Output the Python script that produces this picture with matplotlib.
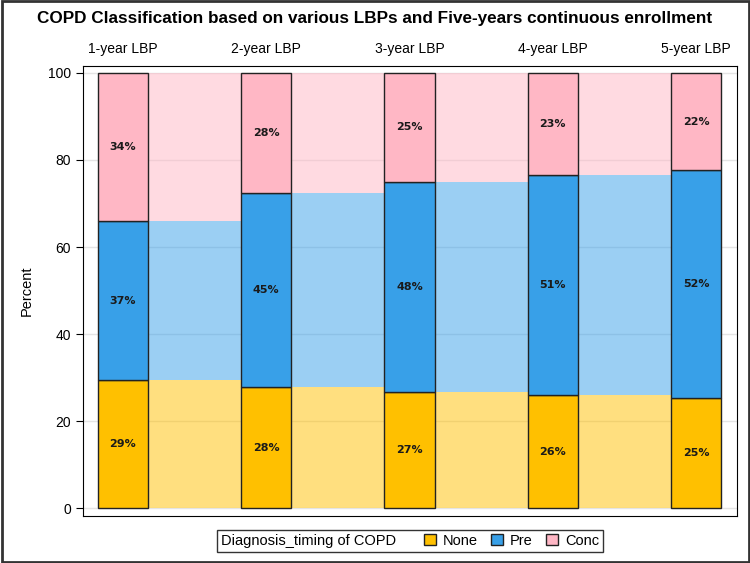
import matplotlib.pyplot as plt
from matplotlib.patches import Rectangle
from matplotlib.offsetbox import HPacker

# valeurs
lbp = ['1-year LBP', '2-year LBP', '3-year LBP', '4-year LBP', '5-year LBP']
none_pct = [29.4, 27.8, 26.7, 25.9, 25.4]
pre_pct = [36.6, 44.6, 48.3, 50.7, 52.2]
conc_pct = [34.0, 27.6, 25.0, 23.4, 22.4]

series = [('None', none_pct, '#FFC000'),
          ('Pre', pre_pct, '#38A0E8'),
          ('Conc', conc_pct, '#FFB7C5')]

plt.rcParams['font.family'] = ['Liberation Sans', 'DejaVu Sans']

fig = plt.figure(figsize=(7.5, 5.63), dpi=100)
ax = fig.add_axes([0.1107, 0.0835, 0.872, 0.7993])

x = list(range(len(lbp)))
w = 0.35

ax.set_axisbelow(True)
ax.yaxis.grid(True, color='#e4e4e4', linewidth=1, zorder=0)

bottom = [0] * len(lbp)
for name, vals, col in series:
    # zones de liaison entre les barres
    ax.bar([i + 0.5 for i in x[:-1]], vals[:-1], width=1 - w, bottom=bottom[:-1],
           color=col, alpha=0.5, linewidth=0, zorder=1)
    ax.bar(x, vals, width=w, bottom=bottom, color=col, edgecolor='#222222',
           linewidth=1, zorder=2, label=name)
    for i in x:
        ax.text(i, bottom[i] + vals[i] / 2, f'{round(vals[i])}%', ha='center',
                va='center', fontsize=8, fontweight='semibold', color='#1a1a1a',
                family='DejaVu Sans', zorder=3)
    bottom = [b + v for b, v in zip(bottom, vals)]

ax.set_xlim(-0.279, 4.286)
ax.set_ylim(-1.8, 101.6)
ax.set_yticks([0, 20, 40, 60, 80, 100])
ax.tick_params(axis='y', labelsize=10, length=5)
ax.set_ylabel('Percent', fontsize=10.5, labelpad=10)

ax.xaxis.tick_top()
ax.set_xticks(x)
ax.set_xticklabels(lbp, fontsize=10)
ax.tick_params(axis='x', length=0, pad=7)

fig.text(0.5, 0.968, 'COPD Classification based on various LBPs and Five-years continuous enrollment',
         ha='center', va='center', fontsize=12.3, fontweight='bold')

leg = ax.legend(title='Diagnosis_timing of COPD', loc='upper center',
                bbox_to_anchor=(0.5, -0.014), ncol=3, fontsize=10.5,
                title_fontsize=10.5, frameon=True, fancybox=False,
                edgecolor='black', handlelength=0.8, handleheight=0.8,
                handletextpad=0.5, columnspacing=0.9, borderpad=0.3)
# titre de la légende sur la même ligne que les entrées
title_box, handles_box = leg._legend_box.get_children()
new_box = HPacker(pad=leg.borderpad * 10.5, sep=20,
                  children=[title_box, handles_box], align='center')
new_box.set_figure(fig)
new_box.axes = ax
new_box.set_offset(leg._findoffset)
leg._legend_box = new_box
leg.get_frame().set_linewidth(1)

fig.patches.append(Rectangle((0.002, 0.002), 0.996, 0.996, transform=fig.transFigure,
                             fill=False, edgecolor='#333333', linewidth=2))

plt.savefig('out.png', dpi=100)
